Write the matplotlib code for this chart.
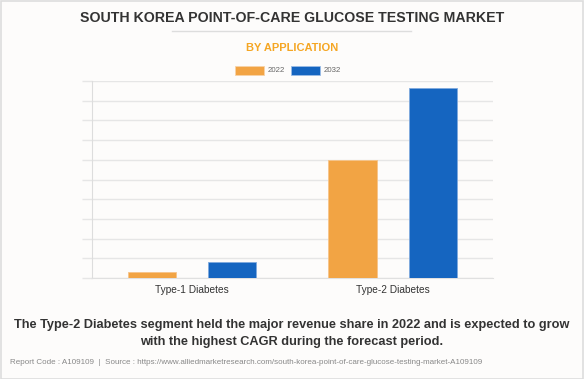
import matplotlib
matplotlib.use("Agg")
import matplotlib.pyplot as plt
from matplotlib.patches import Rectangle
from matplotlib.lines import Line2D
import numpy as np

plt.rcParams['font.family'] = ['Liberation Sans', 'DejaVu Sans']

categories = ["Type-1 Diabetes", "Type-2 Diabetes"]
series_names = ["2022", "2032"]
values_2022 = [0.30, 5.97]
values_2032 = [0.83, 9.63]
colors = ["#F2A444", "#1565C0"]

W, H = 584, 379
fig = plt.figure(figsize=(W / 100, H / 100), dpi=100)
fig.patch.set_facecolor("#FDFCFB")

# border
fig.add_artist(Rectangle((0.5 / W, 0.5 / H), 1 - 1.5 / W, 1 - 1.5 / H, transform=fig.transFigure,
                         fill=False, edgecolor="#DDDDDD", linewidth=1.2))

def fx(px):
    return px / W

def fy(py):
    return 1 - py / H

ax_left, ax_right, ax_top, ax_bottom = 91.7, 493, 81, 278
ax = fig.add_axes([fx(ax_left), fy(ax_bottom), fx(ax_right - ax_left), (ax_bottom - ax_top) / H])
ax.set_facecolor("#FDFCFB")

x = np.arange(len(categories))
off, bw = 0.2, 0.24
ax.bar(x - off, values_2022, width=bw, color=colors[0], edgecolor="#F6C48A", linewidth=0.6, zorder=3)
ax.bar(x + off, values_2032, width=bw, color=colors[1], edgecolor="#7FA9DD", linewidth=0.6, zorder=3)
ax.set_xlim(-0.5, 1.5)
ax.set_ylim(0, 10)
ax.set_yticks(np.arange(0, 11, 1))
ax.set_yticklabels([])
ax.tick_params(axis='y', length=7, color="#E6E6E6", width=1)
ax.grid(axis='y', color="#E6E6E6", linewidth=1, zorder=0)
ax.set_xticks(x)
ax.set_xticklabels(categories, fontsize=7.3, color="#333333")
ax.tick_params(axis='x', length=0, pad=5)
for s in ["top", "right"]:
    ax.spines[s].set_visible(False)
ax.spines["left"].set_color("#DDDDDD")
ax.spines["bottom"].set_color("#E0E0E0")

fig.text(0.5, fy(17.5), "SOUTH KOREA POINT-OF-CARE GLUCOSE TESTING MARKET", ha="center", va="center",
         fontsize=10.15, fontweight="bold", color="#333333")
fig.add_artist(Line2D([fx(172), fx(411)], [fy(30.5), fy(30.5)], transform=fig.transFigure,
                      color="#DDDDDD", linewidth=1))
fig.text(0.5, fy(48), "BY APPLICATION", ha="center", va="center", fontsize=8,
         fontweight="bold", color="#F5A623")

# legend
for i, (name, c, px) in enumerate(zip(series_names, colors, [235, 291])):
    fig.add_artist(Rectangle((fx(px), fy(75)), fx(29), 9.5 / H, transform=fig.transFigure,
                             facecolor=c, edgecolor="#F8D3A8" if i == 0 else "#9CBDE6", linewidth=0.6))
    fig.text(fx(px + 32.5), fy(70), name, ha="left", va="center", fontsize=5.7, color="#666666")

fig.text(0.5, fy(325), "The Type-2 Diabetes segment held the major revenue share in 2022 and is expected to grow",
         ha="center", va="center", fontsize=9.2, fontweight="bold", color="#333333")
fig.text(0.5, fy(342), "with the highest CAGR during the forecast period.",
         ha="center", va="center", fontsize=9.2, fontweight="bold", color="#333333")
fig.text(fx(9.5), fy(362.5), "Report Code : A109109  |  Source : https://www.alliedmarketresearch.com/south-korea-point-of-care-glucose-testing-market-A109109",
         ha="left", va="center", fontsize=5.73, color="#888888")

fig.savefig("out.png", dpi=100, facecolor=fig.get_facecolor())
